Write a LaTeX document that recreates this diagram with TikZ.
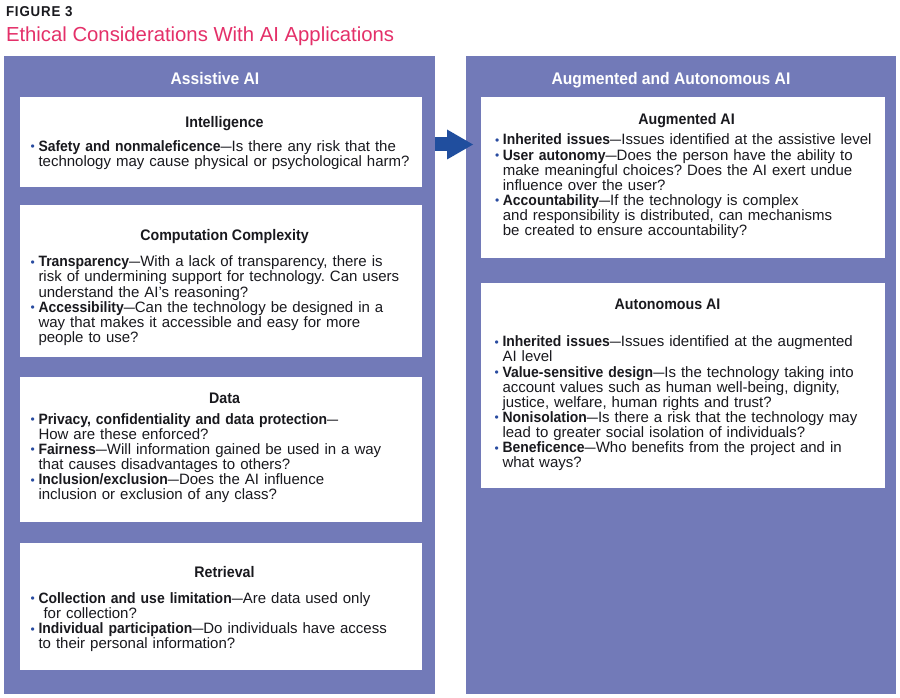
\documentclass[tikz,border=0pt]{standalone}
\usepackage{fontspec}
\usepackage{graphicx}
\setmainfont[BoldFeatures={FakeStretch=0.93}]{Liberation Sans}
\usetikzlibrary{arrows.meta}
\definecolor{panel}{RGB}{114,122,184}
\definecolor{titlepink}{RGB}{228,48,105}
\definecolor{arrowblue}{RGB}{32,78,158}
\definecolor{bulblue}{RGB}{40,75,160}
\definecolor{figdark}{RGB}{25,25,30}
\newcommand{\bul}{\makebox[0pt][r]{\textcolor{bulblue}{\fontsize{12}{12}\selectfont\raisebox{0.6pt}{•}}\hspace{3.6pt}}}
\newcommand{\md}{\scalebox{0.74}[1]{—}}
\frenchspacing
\begin{document}
\begin{tikzpicture}[x=1pt,y=-1pt,
  panelbox/.style={fill=panel, inner sep=0, anchor=north west},
  whitebox/.style={fill=white, inner sep=0, anchor=north west},
  panelhead/.style={anchor=base, inner sep=0, text=white, font=\fontsize{16.8}{18}\selectfont\bfseries},
  boxhead/.style={anchor=base, inner sep=0, text=figdark, font=\fontsize{15.3}{16}\selectfont\bfseries},
  bodytext/.style={anchor=base west, inner sep=0, align=left, text width=395pt, text=figdark, font=\fontsize{15}{15.15}\selectfont},
  flow/.style={draw=arrowblue, line width=14pt, -{Triangle[length=26pt, width=30pt, line width=0pt]}}
]
\useasboundingbox[fill=white] (0,0) rectangle (900,698);

% titles
\node[anchor=base west, inner sep=0, text=figdark, font=\fontsize{14.3}{16}\selectfont\bfseries\addfontfeature{LetterSpace=6}] (fig) at (5.8,17) {FIGURE 3};
\node[anchor=base west, inner sep=0, text=titlepink, font=\fontsize{20.3}{24}\selectfont] (title) at (5.8,41.7) {Ethical Considerations With AI Applications};

% panels
\node[panelbox, minimum width=431pt, minimum height=638pt] (lp) at (4,56) {};
\node[panelbox, minimum width=430pt, minimum height=638pt] (rp) at (466,56) {};
\node[panelhead] (lph) at (215,84.3) {Assistive AI};
\node[panelhead] (rph) at (671,84.3) {Augmented and Autonomous AI};

% left boxes
\node[whitebox, minimum width=402pt, minimum height=90pt] (b1) at (20,97) {};
\node[whitebox, minimum width=402pt, minimum height=152pt] (b2) at (20,205) {};
\node[whitebox, minimum width=402pt, minimum height=145pt] (b3) at (20,377) {};
\node[whitebox, minimum width=402pt, minimum height=127pt] (b4) at (20,543) {};
% right boxes
\node[whitebox, minimum width=404pt, minimum height=161pt] (ba) at (481,97) {};
\node[whitebox, minimum width=404pt, minimum height=205pt] (bb) at (481,283) {};

% arrow
\coordinate (arrS) at (435,144.5);
\coordinate (arrE) at (473,144.5);
\draw[flow] (arrS) -- (arrE);

% box 1
\node[boxhead] (h1) at (224.5,128) {Intelligence};
\node[bodytext] (t1) at (38.3,151.5) {\bul\textbf{Safety and nonmaleficence}\md Is there any risk that the\\technology may cause physical or psychological harm?};

% box 2
\node[boxhead] (h2) at (224.5,240.7) {Computation Complexity};
\node[bodytext] (t2) at (38.3,266.7) {\bul\textbf{Transparency}\md With a lack of transparency, there is\\
risk of undermining support for technology. Can users\\
understand the AI’s reasoning?\\
\bul\textbf{Accessibility}\md Can the technology be designed in a\\
way that makes it accessible and easy for more\\
people to use?};

% box 3
\node[boxhead] (h3) at (224.5,403.3) {Data};
\node[bodytext] (t3) at (38.3,424) {\bul\textbf{Privacy, confidentiality and data protection}\md\\
How are these enforced?\\
\bul\textbf{Fairness}\md Will information gained be used in a way\\
that causes disadvantages to others?\\
\bul\textbf{Inclusion/exclusion}\md Does the AI influence\\
inclusion or exclusion of any class?};

% box 4
\node[boxhead] (h4) at (224.5,577.3) {Retrieval};
\node[bodytext] (t4) at (38.3,603.3) {\bul\textbf{Collection and use limitation}\md Are data used only\\
\hspace*{5pt}for collection?\\
\bul\textbf{Individual participation}\md Do individuals have access\\
to their personal information?};

% box A
\node[boxhead] (ha) at (686.5,125) {Augmented AI};
\node[bodytext] (ta) at (502.7,145) {\bul\textbf{Inherited issues}\md Issues identified at the assistive level\\
\bul\textbf{User autonomy}\md Does the person have the ability to\\
make meaningful choices? Does the AI exert undue\\
influence over the user?\\
\bul\textbf{Accountability}\md If the technology is complex\\
and responsibility is distributed, can mechanisms\\
be created to ensure accountability?};

% box B
\node[boxhead] (hb) at (667.5,309.3) {Autonomous AI};
\node[bodytext] (tb) at (502.3,346.7) {\bul\textbf{Inherited issues}\md Issues identified at the augmented\\
AI level\\
\bul\textbf{Value-sensitive design}\md Is the technology taking into\\
account values such as human well-being, dignity,\\
justice, welfare, human rights and trust?\\
\bul\textbf{Nonisolation}\md Is there a risk that the technology may\\
lead to greater social isolation of individuals?\\
\bul\textbf{Beneficence}\md Who benefits from the project and in\\
what ways?};
\end{tikzpicture}
\end{document}
